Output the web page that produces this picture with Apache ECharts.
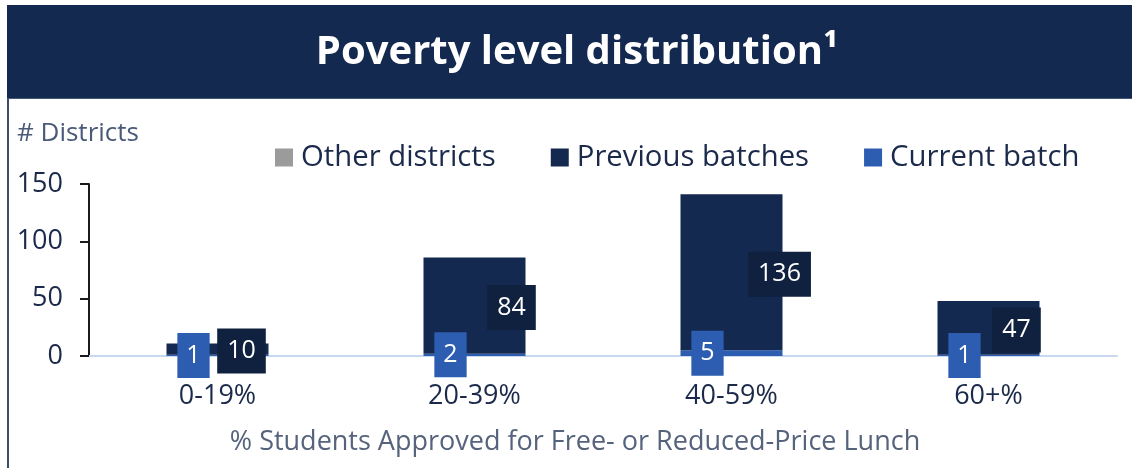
<!DOCTYPE html>
<html>
<head>
<meta charset="utf-8">
<script src="https://cdn.jsdelivr.net/npm/echarts@6/dist/echarts.min.js"></script>
<style>
html,body{margin:0;padding:0;background:#fff;}
#chart{width:1132px;height:468px;}
</style>
</head>
<body>
<div id="chart"></div>
<script>
const categories = ['0-19%', '20-39%', '40-59%', '60+%'];
const otherDistricts = [0, 0, 0, 0];
const previousBatches = [10, 84, 136, 47];
const currentBatch = [1, 2, 5, 1];
const yTicks = [0, 50, 100, 150];

const titleText = 'Poverty level distribution\u00b9';
const yAxisTitle = '# Districts';
const xAxisTitle = '% Students Approved for Free- or Reduced-Price Lunch';

const NAVY = '#14294f';
const BLUE = '#2c5db0';
const FONT = '"Open Sans", "Noto Sans", sans-serif';
const prevLabelShift = [24, 37, 48, 28];

const chart = echarts.init(document.getElementById('chart'), null, {renderer: 'canvas'});
chart.setOption({
  animation: false,
  textStyle: {fontFamily: FONT},
  graphic: [
    {type: 'rect', left: 7, top: 5, shape: {width: 1125, height: 94}, style: {fill: NAVY}, z: 0},
    {type: 'rect', left: 7, top: 98, shape: {width: 1125, height: 1}, style: {fill: '#45587a'}, z: 1},
    {type: 'rect', left: 7, top: 99, shape: {width: 2, height: 369}, style: {fill: '#3b4b6b'}, z: 1},
    {type: 'text', x: 577, y: 53, z: 2,
      style: {text: titleText, fill: '#ffffff', font: 'bold 40px ' + FONT,
        textAlign: 'center', textVerticalAlign: 'middle'}},
    {type: 'text', x: 17, y: 134, z: 2,
      style: {text: yAxisTitle, fill: '#4a5a78', font: '26px ' + FONT, textVerticalAlign: 'middle'}},
    {type: 'text', x: 575, y: 442, z: 2,
      style: {text: xAxisTitle, fill: '#56637c', font: '27px ' + FONT,
        textAlign: 'center', textVerticalAlign: 'middle'}}
  ],
  legend: {
    data: ['Other districts', 'Previous batches', 'Current batch'],
    top: 138,
    left: 270,
    itemWidth: 18,
    itemHeight: 18,
    itemGap: 55,
    icon: 'rect',
    textStyle: {fontSize: 29.3, color: '#1b2a4a', fontFamily: FONT, padding: [0, 0, 0, 3]}
  },
  grid: {left: 89, right: 15, top: 184, bottom: 112, containLabel: false},
  xAxis: {
    type: 'category',
    data: categories,
    axisLine: {show: true, lineStyle: {color: '#c8d8ef', width: 2}},
    axisTick: {show: false},
    axisLabel: {fontSize: 27, color: '#1b2a4a', margin: 27, fontFamily: FONT}
  },
  yAxis: {
    type: 'value',
    min: yTicks[0],
    max: yTicks[yTicks.length - 1],
    interval: 50,
    axisLine: {show: true, lineStyle: {color: '#1a1a1a', width: 2}},
    axisTick: {show: true, length: 9, lineStyle: {color: '#1a1a1a', width: 2}},
    splitLine: {show: false},
    axisLabel: {fontSize: 27, color: '#1b2a4a', margin: 26, fontFamily: FONT}
  },
  series: [
    {
      name: 'Other districts', type: 'bar', stack: 'total', barWidth: 102,
      itemStyle: {color: '#9b9b9b'},
      data: otherDistricts
    },
    {
      name: 'Current batch', type: 'bar', stack: 'total', barWidth: 102,
      itemStyle: {color: BLUE},
      data: currentBatch,
      label: {
        show: true, position: 'inside', offset: [-24, 0],
        color: '#fff', fontSize: 25, fontFamily: FONT,
        backgroundColor: BLUE, padding: [9, 9, 9, 9], lineHeight: 27
      }
    },
    {
      name: 'Previous batches', type: 'bar', stack: 'total', barWidth: 102,
      itemStyle: {color: NAVY},
      data: previousBatches.map((v, i) => ({
        value: v,
        label: {offset: [prevLabelShift[i], 2]}
      })),
      label: {
        show: true, position: 'inside',
        color: '#fff', fontSize: 25, fontFamily: FONT,
        backgroundColor: '#0f213f', padding: [9, 10, 9, 10], lineHeight: 27
      }
    }
  ]
});
</script>
</body>
</html>
